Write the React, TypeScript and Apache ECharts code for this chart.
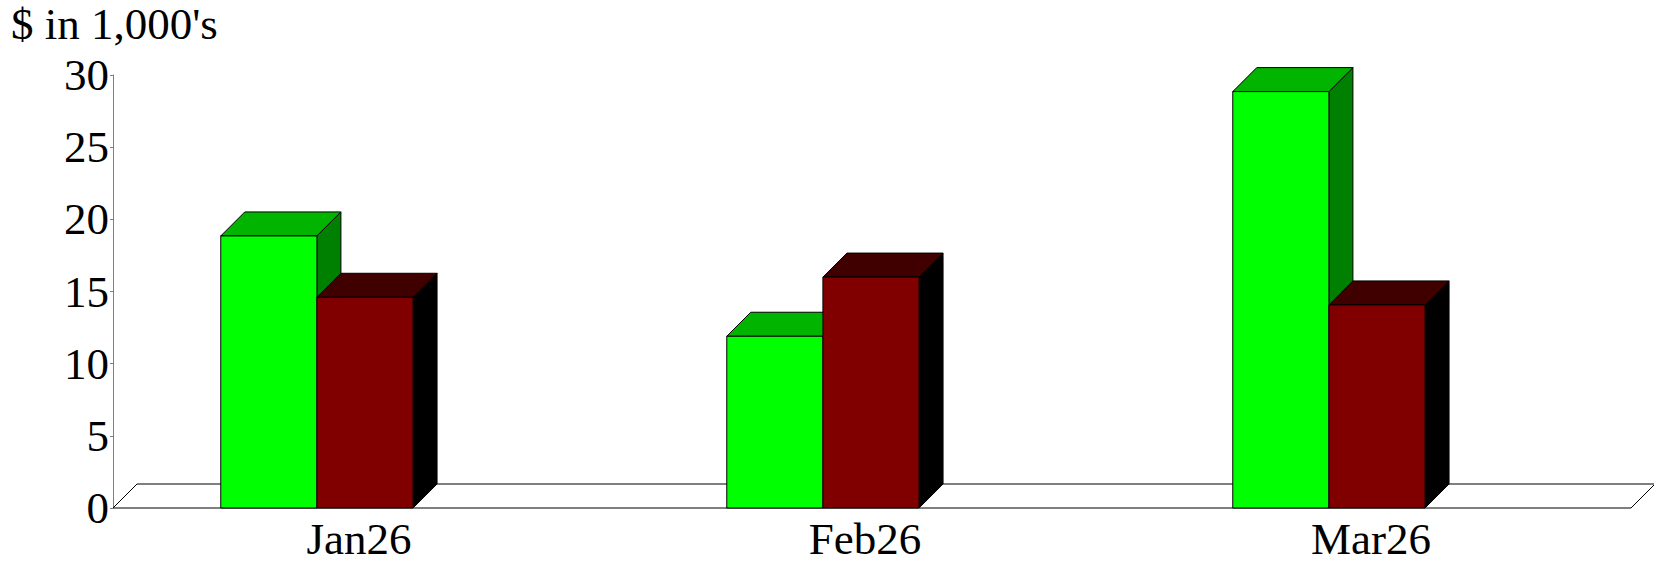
import React, { useEffect, useRef } from "react";
import * as echarts from "echarts";

const categories = ["Jan26", "Feb26", "Mar26"];
const greenValues = [18.85, 11.9, 28.85];
const redValues = [14.6, 16.0, 14.07];
const yMin = 0;
const yMax = 30;
const yInterval = 5;
const axisTitle = "$ in 1,000's";

const FONT = '"Liberation Serif", "Times New Roman", Times, serif';
const FONT_SIZE = 45;
const DEPTH = 24;
const BAR_FRAC = 0.19;
const GROUP_SHIFT = -0.097;

const GREEN = { front: "#00ff00", top: "#00b400", side: "#008000" };
const RED = { front: "#800000", top: "#400000", side: "#000000" };
const EDGE = "#000000";

function makeBarRenderer(slot: number, colors: { front: string; top: string; side: string }) {
  return (params: any, api: any) => {
    const cat = api.value(0);
    const val = api.value(1);
    const base = api.coord([cat, 0]);
    const top = api.coord([cat, val]);
    const band = api.size([1, 0])[0];
    const bw = band * BAR_FRAC;
    const center = base[0] + band * GROUP_SHIFT;
    const x0 = slot === 0 ? center - bw : center;
    const x1 = x0 + bw;
    const d = DEPTH;
    const yb = base[1];
    const yt = top[1];
    return {
      type: "group",
      children: [
        {
          type: "polygon",
          shape: { points: [[x1, yt], [x1 + d, yt - d], [x1 + d, yb - d], [x1, yb]] },
          style: { fill: colors.side, stroke: EDGE, lineWidth: 1 },
        },
        {
          type: "polygon",
          shape: { points: [[x0, yt], [x0 + d, yt - d], [x1 + d, yt - d], [x1, yt]] },
          style: { fill: colors.top, stroke: EDGE, lineWidth: 1 },
        },
        {
          type: "rect",
          shape: { x: x0, y: yt, width: bw, height: yb - yt },
          style: { fill: colors.front, stroke: EDGE, lineWidth: 1 },
        },
      ],
    };
  };
}

function floorRenderer(params: any) {
  const cs = params.coordSys;
  const d = DEPTH;
  const yb = cs.y + cs.height;
  const xl = cs.x;
  const xr = cs.x + cs.width;
  return {
    type: "polygon",
    shape: { points: [[xl, yb], [xl + d, yb - d], [xr + d, yb - d], [xr, yb]] },
    style: { fill: "#ffffff", stroke: "#000000", lineWidth: 1 },
  };
}

export default function App() {
  const ref = useRef<HTMLDivElement>(null);
  useEffect(() => {
    if (!ref.current) return;
    const chart = echarts.init(ref.current, undefined, { renderer: "svg" });
    chart.setOption({
      animation: false,
      backgroundColor: "#ffffff",
      textStyle: { fontFamily: FONT },
      title: {
        text: axisTitle,
        left: 11,
        top: 1,
        padding: 0,
        textStyle: { fontSize: FONT_SIZE, fontWeight: "normal", fontFamily: FONT, color: "#000000" },
      },
      grid: { left: 113, top: 75, width: 1518, height: 433, containLabel: false },
      xAxis: {
        type: "category",
        data: categories,
        axisLine: { show: false },
        axisTick: { show: false },
        splitLine: { show: false },
        axisLabel: {
          fontSize: FONT_SIZE,
          fontFamily: FONT,
          color: "#000000",
          margin: 8,
          padding: [0, 14, 0, 0],
        },
      },
      yAxis: {
        type: "value",
        min: yMin,
        max: yMax,
        interval: yInterval,
        axisLine: { show: true, lineStyle: { color: "#808080", width: 1 } },
        axisTick: { show: true, length: 3, lineStyle: { color: "#808080" } },
        splitLine: { show: false },
        axisLabel: { fontSize: FONT_SIZE, fontFamily: FONT, color: "#000000", margin: 4 },
      },
      series: [
        {
          type: "custom",
          name: "floor",
          renderItem: floorRenderer,
          data: [[0, 0]],
          silent: true,
          z: 1,
        },
        {
          type: "custom",
          name: "Series A",
          renderItem: makeBarRenderer(0, GREEN),
          data: categories.map((_, i) => [i, greenValues[i]]),
          encode: { x: 0, y: 1 },
          z: 2,
        },
        {
          type: "custom",
          name: "Series B",
          renderItem: makeBarRenderer(1, RED),
          data: categories.map((_, i) => [i, redValues[i]]),
          encode: { x: 0, y: 1 },
          z: 3,
        },
      ],
    });
    return () => chart.dispose();
  }, []);
  return (
    <div
      ref={ref}
      style={{ position: "absolute", left: 0, top: 0, width: 1654, height: 563 }}
    />
  );
}
